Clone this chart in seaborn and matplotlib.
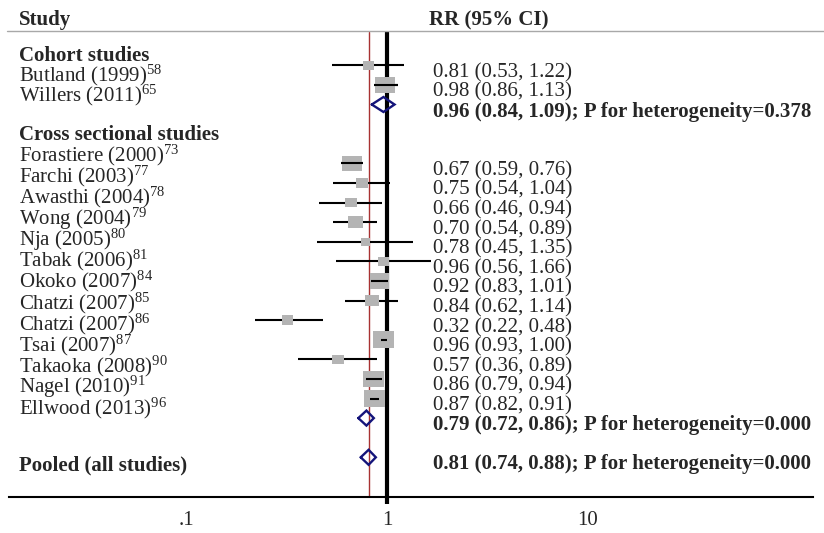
import numpy as np
import pandas as pd
import matplotlib
matplotlib.use("Agg")
import matplotlib.pyplot as plt
import matplotlib.transforms as mtransforms
from matplotlib.lines import Line2D
from matplotlib.ticker import NullLocator
import seaborn as sns

# ---------------- data ----------------
studies = ["Butland (1999)", "Willers (2011)",
           "Forastiere (2000)", "Farchi (2003)", "Awasthi (2004)", "Wong (2004)",
           "Nja (2005)", "Tabak (2006)", "Okoko (2007)", "Chatzi (2007)",
           "Chatzi (2007)", "Tsai (2007)", "Takaoka (2008)", "Nagel (2010)",
           "Ellwood (2013)"]
refs = [58, 65, 73, 77, 78, 79, 80, 81, 84, 85, 86, 87, 90, 91, 96]
design = ["Cohort studies"] * 2 + ["Cross sectional studies"] * 13
rr = [0.81, 0.98, 0.67, 0.75, 0.66, 0.70, 0.78, 0.96, 0.92, 0.84, 0.32, 0.96, 0.57, 0.86, 0.87]
ci_low = [0.53, 0.86, 0.59, 0.54, 0.46, 0.54, 0.45, 0.56, 0.83, 0.62, 0.22, 0.93, 0.36, 0.79, 0.82]
ci_high = [1.22, 1.13, 0.76, 1.04, 0.94, 0.89, 1.35, 1.66, 1.01, 1.14, 0.48, 1.00, 0.89, 0.94, 0.91]
weights = [3.5, 10.2, 9.8, 4.2, 3.7, 6.1, 2.4, 2.9, 9.8, 5.1, 3.7, 11.9, 3.4, 11.5, 11.8]

groups = ["Cohort studies", "Cross sectional studies"]
group_rr = [0.96, 0.79]
group_low = [0.84, 0.72]
group_high = [1.09, 0.86]
group_phet = ["0.378", "0.000"]

overall_label = "Pooled (all studies)"
overall_rr, overall_low, overall_high, overall_phet = 0.81, 0.74, 0.88, "0.000"

tick_values = [0.1, 1, 10]
tick_labels = [".1", "1", "10"]

# ---------------- style ----------------
sns.set_style("white")
plt.rcParams['font.family'] = ['Liberation Serif', 'DejaVu Serif']
plt.rcParams['mathtext.fontset'] = 'custom'
plt.rcParams['mathtext.rm'] = 'Liberation Serif'
plt.rcParams['mathtext.it'] = 'Liberation Serif:italic'
plt.rcParams['mathtext.bf'] = 'Liberation Serif:bold'

FS = 15
GRAY = "#b4b4b4"
NAVY = "#14147a"
RED = "#a83232"

W, H = 824, 533
fig = plt.figure(figsize=(W / 100, H / 100), dpi=100)
ax_left, ax_right, ax_bottom = 9, 813, 497
ax = fig.add_axes([ax_left / W, (H - ax_bottom) / H, (ax_right - ax_left) / W, ax_bottom / H])
ax.patch.set_alpha(0)
ax.set_ylim(ax_bottom, 0)
ax.set_xscale('log')
DEC, X1 = 201.0, 387.0
ax.set_xlim(10 ** ((ax_left - X1) / DEC), 10 ** ((ax_right - X1) / DEC))

# row layout (pixel rows from the top)
ROW0, STEP = 65.3, 19.6
row_idx = [0, 1] + list(range(5, 18))
group_rows = [2, 18]
overall_row = 20

df = pd.DataFrame({"study": studies, "ref": refs, "design": design, "rr": rr,
                   "lo": ci_low, "hi": ci_high, "weight": weights})
df["y"] = [ROW0 + STEP * r for r in row_idx]

# CI lines (under boxes)
ax.hlines(df["y"], df["lo"], df["hi"], color="black", lw=1.5, zorder=2)

# weighted boxes
rect = [(-0.62, -0.5), (0.62, -0.5), (0.62, 0.5), (-0.62, 0.5), (-0.62, -0.5)]
KS = 19.5
sizes = {w: KS * w for w in df["weight"].unique()}
sns.scatterplot(data=df, x="rr", y="y", size="weight", sizes=sizes, marker=rect,
                color=GRAY, edgecolor="none", linewidth=0, legend=False, ax=ax, zorder=3)

# CI lines drawn on top when narrower than box
box_w = np.sqrt(KS * df["weight"]) / 0.72
ci_w = DEC * (np.log10(df["hi"]) - np.log10(df["lo"]))
narrow = df[ci_w < 1.3 * box_w]
ax.hlines(narrow["y"], narrow["lo"], narrow["hi"], color="black", lw=1.5, zorder=4)

# reference lines
ax.plot([1, 1], [31.5, 504], color="black", lw=3, solid_capstyle="butt", clip_on=False, zorder=1.5)
ax.plot([overall_rr, overall_rr], [31.5, ax_bottom], color=RED, lw=1.0, zorder=1.4)

# diamonds
def diamond(est, lo, hi, y):
    ax.plot([lo, est, hi, est, lo], [y, y - 7.5, y, y + 7.5, y], color=NAVY, lw=1.7,
            solid_joinstyle="miter", zorder=5)

for r, e, l, h in zip(group_rows, group_rr, group_low, group_high):
    diamond(e, l, h, ROW0 + STEP * r)
diamond(overall_rr, overall_low, overall_high, ROW0 + STEP * overall_row)

# axis
for s in ["left", "top", "right"]:
    ax.spines[s].set_visible(False)
ax.spines["bottom"].set_linewidth(1.5)
ax.spines["bottom"].set_color("black")
ax.set_yticks([])
ax.set_xticks(tick_values)
ax.set_xticklabels(tick_labels, fontsize=FS)
ax.xaxis.set_minor_locator(NullLocator())
ax.tick_params(axis="x", length=5, width=1.5, color="black", pad=5, labelsize=FS)
ax.set_xlabel("")
ax.set_ylabel("")

# header
fig.add_artist(Line2D([7 / W, 1.0], [1 - 31 / H, 1 - 31 / H], color="#a8a8a8", lw=1.0))
fig.text(19 / W, 1 - 25.5 / H, "Study", fontsize=FS, fontweight="bold", va="baseline")
fig.text(429 / W, 1 - 25.5 / H, "RR (95% CI)", fontsize=FS, fontweight="bold", va="baseline")

trans = mtransforms.blended_transform_factory(fig.transFigure, ax.transData)
LX, VX = 19 / W, 433 / W

# left labels
label_start = {"Cohort studies": (61.0, 20.0), "Cross sectional studies": (140.0, 21.1)}
for g in groups:
    base, step = label_start[g]
    ax.text(LX, base, g, transform=trans, fontsize=FS, fontweight="bold", va="baseline")
    sub = df[df["design"] == g].reset_index(drop=True)
    for i, row in sub.iterrows():
        ax.text(LX, base + step * (i + 1), f"{row['study']}$^{{{row['ref']}}}$",
                transform=trans, fontsize=FS, va="baseline")
ax.text(LX, 470.7, overall_label, transform=trans, fontsize=FS, fontweight="bold", va="baseline")

# right values
for _, row in df.iterrows():
    ax.text(VX, row["y"] + 12, f"{row['rr']:.2f} ({row['lo']:.2f}, {row['hi']:.2f})",
            transform=trans, fontsize=FS, va="baseline")
for r, e, l, h, p in zip(group_rows, group_rr, group_low, group_high, group_phet):
    ax.text(VX, ROW0 + STEP * r + 12, f"{e:.2f} ({l:.2f}, {h:.2f}); P for heterogeneity={p}",
            transform=trans, fontsize=FS, fontweight="bold", va="baseline")
ax.text(VX, ROW0 + STEP * overall_row + 12,
        f"{overall_rr:.2f} ({overall_low:.2f}, {overall_high:.2f}); P for heterogeneity={overall_phet}",
        transform=trans, fontsize=FS, fontweight="bold", va="baseline")

fig.savefig("out.png", dpi=100)
